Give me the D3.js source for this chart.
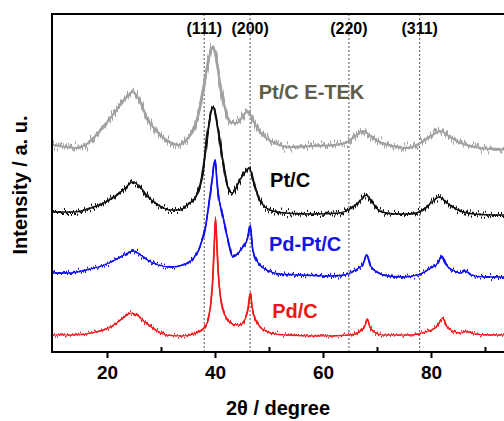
<!DOCTYPE html>
<html>
<head>
<meta charset="utf-8">
<script src="https://cdn.jsdelivr.net/npm/d3@7"></script>
<style>
  body { margin: 0; background: #fff; overflow: hidden; }
  svg { display: block; }
  text { font-family: "Liberation Sans", Arial, sans-serif; font-weight: bold; }
</style>
</head>
<body>
<div id="chart"></div>
<script>
// 2theta (deg) / intensity (a.u.)
const pdC = [
  [10, 170], [14, 170], [18, 200], [21, 260], [23, 340], [24.5, 390], [25.5, 370], [27, 300],
  [29, 220], [31, 170], [34, 160], [36, 180], [38, 240], [38.8, 340], [39.3, 520], [39.6, 740],
  [39.9, 1120], [40.1, 1340], [40.35, 1070], [40.65, 760], [41, 560], [41.5, 420], [42.2, 330],
  [43.2, 280], [44.5, 270], [45.5, 320], [46.1, 420], [46.55, 590], [46.9, 440], [47.4, 340],
  [48.2, 260], [49.5, 210], [51, 180], [55, 165], [60, 160], [65, 170], [67, 210], [67.8, 270],
  [68.2, 330], [68.7, 250], [69.5, 200], [71, 170], [76, 170], [79, 200], [81, 250], [82.2, 340],
  [82.8, 260], [84, 210], [85.5, 190], [86.7, 210], [88, 180], [91, 170], [100, 170]
]

const pdPtC = [
  [10, 790], [13, 790], [16, 820], [19, 860], [21.5, 920], [23.5, 980], [24.8, 1010], [26, 980],
  [27.5, 920], [29.5, 870], [32, 850], [34, 870], [35.5, 910], [37.2, 1050], [38.2, 1240],
  [38.8, 1450], [39.4, 1690], [40, 1920], [40.5, 1620], [41.5, 1350], [42.4, 1120], [43.3, 950],
  [44.3, 990], [45.2, 1050], [46.1, 1150], [46.5, 1260], [47, 1020], [48, 890], [49.6, 820],
  [52, 780], [56, 770], [61, 760], [64, 770], [66, 820], [67.4, 880], [68.1, 970], [68.8, 860],
  [70, 800], [72, 760], [75, 750], [78, 780], [80, 840], [81.3, 890], [82, 960], [82.8, 870],
  [84, 820], [85.5, 790], [86.3, 810], [87.5, 770], [90, 750], [100, 750]
]

const ptC = [
  [10, 1400], [14, 1400], [17, 1440], [19, 1480], [21, 1540], [23, 1620], [24.8, 1700],
  [26.3, 1640], [27.8, 1540], [29.5, 1470], [31.7, 1420], [33.5, 1420], [35, 1480], [36, 1520],
  [37.2, 1650], [37.8, 1820], [38.7, 2220], [39.6, 2450], [40.6, 2220], [41.5, 1890], [42.4, 1650],
  [43.2, 1590], [44.6, 1720], [45.6, 1800], [46.3, 1840], [47.4, 1650], [48.3, 1520], [50.2, 1420],
  [53, 1390], [58, 1380], [63, 1390], [65.5, 1450], [67, 1520], [68, 1570], [69.2, 1490],
  [70.5, 1410], [73, 1380], [76, 1380], [78.5, 1420], [80, 1490], [81.5, 1550], [83, 1490],
  [85, 1420], [88, 1380], [92, 1370], [100, 1370]
]

const ptCEtek = [
  [10, 2070], [12.5, 2050], [14.5, 2040], [16.5, 2090], [18, 2170], [19.3, 2250], [21.5, 2400],
  [23.5, 2540], [24.8, 2600], [26, 2520], [27.4, 2340], [29, 2220], [31, 2120], [33.2, 2070],
  [35, 2140], [36, 2220], [37.2, 2450], [37.8, 2620], [38.7, 2890], [39.5, 3050], [40.3, 2920],
  [40.9, 2690], [41.8, 2450], [42.8, 2300], [44, 2290], [45.2, 2360], [46, 2410], [47.2, 2300],
  [48.3, 2200], [49.5, 2140], [51, 2090], [54, 2050], [58, 2060], [62, 2070], [64.5, 2100],
  [66, 2160], [67.4, 2210], [68.8, 2160], [70.5, 2100], [73, 2060], [75.6, 2040], [78, 2090],
  [80, 2160], [81.7, 2210], [83.5, 2150], [85.5, 2090], [88, 2050], [91, 2030], [100, 2020]
]

const peakPos = [38.0, 46.5, 64.8, 77.9]
const peakLabels = ["(111)", "(200)", "(220)", "(311)"]
const majorTicks = [20, 40, 60, 80]
const minorTicks = [30, 50, 70, 90]

const width = 504, height = 421
const margin = {top: 14, left: 53, bottom: 69}
const plotW = 486, plotH = height - margin.top - margin.bottom

const x = d3.scaleLinear().domain([10, 100]).range([margin.left, margin.left + plotW])
const y = d3.scaleLinear().domain([0, 3380]).range([margin.top + plotH, margin.top])

const svg = d3.select("#chart").append("svg")
  .attr("width", width)
  .attr("height", height)

// jagged look of the raw counts, done as a rendering filter only
const defs = svg.append("defs")
function noiseFilter(id, seed, scale) {
  const f = defs.append("filter")
    .attr("id", id)
    .attr("filterUnits", "userSpaceOnUse")
    .attr("x", 0).attr("y", 0).attr("width", 600).attr("height", height)
    .attr("color-interpolation-filters", "sRGB")
  f.append("feTurbulence")
    .attr("type", "fractalNoise")
    .attr("baseFrequency", "1.3 0")
    .attr("numOctaves", 3)
    .attr("seed", seed)
    .attr("result", "t")
  f.append("feColorMatrix")
    .attr("in", "t")
    .attr("type", "matrix")
    .attr("values", "0 0 0 0 0.5  0 1 0 0 0  0 0 0 0 0  0 0 0 0 1")
    .attr("result", "m")
  f.append("feDisplacementMap")
    .attr("in", "SourceGraphic")
    .attr("in2", "m")
    .attr("scale", scale)
    .attr("xChannelSelector", "R")
    .attr("yChannelSelector", "G")
}
noiseFilter("n-gray", 3, 22)
noiseFilter("n-black", 7, 14)
noiseFilter("n-blue", 11, 10)
noiseFilter("n-red", 19, 9)

// dotted reference lines
svg.append("g").selectAll("line")
  .data(peakPos)
  .join("line")
    .attr("x1", d => x(d)).attr("x2", d => x(d))
    .attr("y1", margin.top).attr("y2", margin.top + plotH)
    .attr("stroke", "#555")
    .attr("stroke-width", 1)
    .attr("stroke-dasharray", "2,2")

const line = d3.line()
  .curve(d3.curveMonotoneX)
  .x(d => x(d[0]))
  .y(d => y(d[1]))

const series = [
  {data: ptCEtek, color: "#a2a2a2", width: 3, core: 2.2, filter: "n-gray"},
  {data: ptC, color: "#111", width: 2.2, core: 1.5, filter: "n-black"},
  {data: pdPtC, color: "#1010ee", width: 1.8, core: 1.3, filter: "n-blue"},
  {data: pdC, color: "#f01818", width: 1.7, core: 1.2, filter: "n-red"}
]

const traces = svg.append("g").selectAll("g")
  .data(series)
  .join("g")

// solid core of each pattern
traces.append("path")
  .attr("d", d => line(d.data))
  .attr("fill", "none")
  .attr("stroke", d => d.color)
  .attr("stroke-width", d => d.core)

// jittered copy on top
traces.append("path")
  .attr("d", d => line(d.data))
  .attr("fill", "none")
  .attr("stroke", d => d.color)
  .attr("stroke-width", d => d.width)
  .attr("filter", d => `url(#${d.filter})`)

// frame
svg.append("rect")
  .attr("x", margin.left - 1).attr("y", margin.top)
  .attr("width", plotW + 1).attr("height", plotH)
  .attr("fill", "none")
  .attr("stroke", "#000")
  .attr("stroke-width", 2)

const axis = svg.append("g")
  .attr("transform", `translate(0,${margin.top + plotH})`)
  .call(d3.axisBottom(x).tickValues(majorTicks).tickSize(6).tickPadding(8))
axis.select(".domain").remove()
axis.selectAll("line").attr("stroke-width", 2)
axis.selectAll("text").attr("font-size", 19).attr("fill", "#000")
  .style("font-family", '"Liberation Sans", Arial, sans-serif').style("font-weight", "bold")

const minor = svg.append("g")
  .attr("transform", `translate(0,${margin.top + plotH})`)
  .call(d3.axisBottom(x).tickValues(minorTicks).tickSize(-5).tickFormat(""))
minor.select(".domain").remove()
minor.selectAll("line").attr("stroke-width", 2)

// peak labels
svg.append("g").selectAll("text")
  .data(peakPos)
  .join("text")
    .attr("x", d => x(d))
    .attr("y", 34)
    .attr("text-anchor", "middle")
    .attr("font-size", 16)
    .text((d, i) => peakLabels[i])

// series labels
const labels = [
  {text: "Pt/C E-TEK", px: 48.1, py: 2530, color: "#5e5e48"},
  {text: "Pt/C", px: 50.2, py: 1650, color: "#000"},
  {text: "Pd-Pt/C", px: 50.0, py: 1010, color: "#1414e6"},
  {text: "Pd/C", px: 50.6, py: 340, color: "#ee1515"}
]
svg.append("g").selectAll("text")
  .data(labels)
  .join("text")
    .attr("x", d => x(d.px))
    .attr("y", d => y(d.py))
    .attr("font-size", 20)
    .attr("fill", d => d.color)
    .text(d => d.text)

svg.append("text")
  .attr("x", 278)
  .attr("y", 415)
  .attr("text-anchor", "middle")
  .attr("font-size", 20)
  .text("2θ / degree")

svg.append("text")
  .attr("transform", "translate(27,185) rotate(-90)")
  .attr("text-anchor", "middle")
  .attr("font-size", 20)
  .text("Intensity / a. u.")
</script>
</body>
</html>
